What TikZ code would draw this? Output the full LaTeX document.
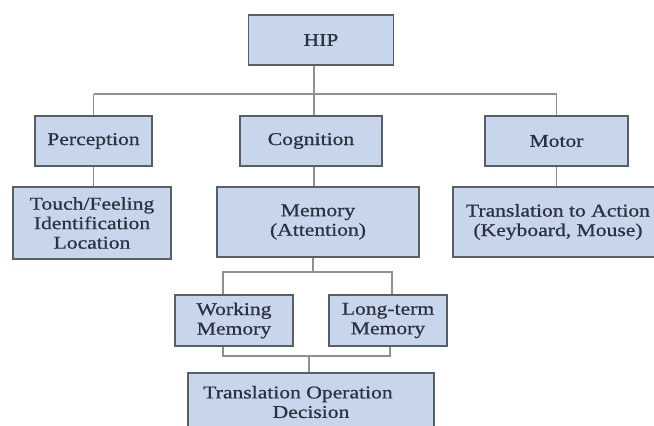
\documentclass[tikz,border=0pt]{standalone}
\usepackage{fontspec}
\setmainfont{Liberation Serif}[FakeStretch=1.2,FakeBold=0.8]
\definecolor{boxfill}{HTML}{C8D6EC}
\definecolor{boxline}{HTML}{5A5E66}
\definecolor{connc}{HTML}{909090}
\definecolor{txt}{HTML}{2A3240}
\begin{document}
\begin{tikzpicture}[x=1pt,y=-1pt,
  box/.style={draw=boxline, fill=boxfill, line width=1.5pt, inner sep=0pt,
    align=center, text=txt, font=\fontsize{18}{19.5}\selectfont},
  conn/.style={draw=connc, line width=1.8pt}]
\useasboundingbox (0,0) rectangle (654,426);
\clip (0,0) rectangle (654,426);
% nodes
\node[box, minimum width=145pt, minimum height=50pt] (hip) at (321,40) {HIP};
\node[box, minimum width=117pt, minimum height=50pt] (per) at (93.5,141) {Perception};
\node[box, minimum width=142pt, minimum height=50pt] (cog) at (311,141) {Cognition};
\node[box, minimum width=143pt, minimum height=50pt] (mot) at (556.5,141) {Motor};
\node[box, minimum width=158pt, minimum height=72pt] (touch) at (92,223) {Touch/Feeling\\Identification\\Location};
\node[box, minimum width=202pt, minimum height=70pt] (mem) at (318,222) {Memory\\(Attention)};
\node[box, minimum width=210pt, minimum height=70pt] (act) at (558,222) {Translation to Action\\(Keyboard, Mouse)};
\node[box, minimum width=118pt, minimum height=51pt] (work) at (234,320.5) {Working\\Memory};
\node[box, minimum width=118pt, minimum height=51pt] (lt) at (388,320.5) {Long-term\\Memory};
\node[box, minimum width=246pt, minimum height=58pt] (top) at (311,402) {Translation Operation\hspace*{26pt}\\Decision};
% connectors
\coordinate (bus) at (314,94);
\draw[conn] (hip.south -| bus) -- (cog.north -| bus);
\draw[conn] (per.north |- bus) -- (mot.north |- bus);
\draw[conn] (per.north |- bus) -- (per.north);
\draw[conn] (mot.north |- bus) -- (mot.north);
\draw[conn] (per.south) -- (per.south |- touch.north);
\draw[conn] (cog.south -| bus) -- (mem.north -| bus);
\draw[conn] (mot.south) -- (mot.south |- act.north);
\coordinate (ubm) at (313,272);
\coordinate (ubl) at (223,272);
\coordinate (ubr) at (392,272);
\draw[conn] (mem.south -| ubm) -- (ubm);
\draw[conn] (work.north -| ubl) |- (ubr) -- (lt.north -| ubr);
\coordinate (lbm) at (309,356);
\coordinate (lbl) at (223,356);
\coordinate (lbr) at (390,356);
\draw[conn] (work.south -| lbl) |- (lbr) -- (lt.south -| lbr);
\draw[conn] (lbm) -- (top.north -| lbm);
\end{tikzpicture}
\end{document}
